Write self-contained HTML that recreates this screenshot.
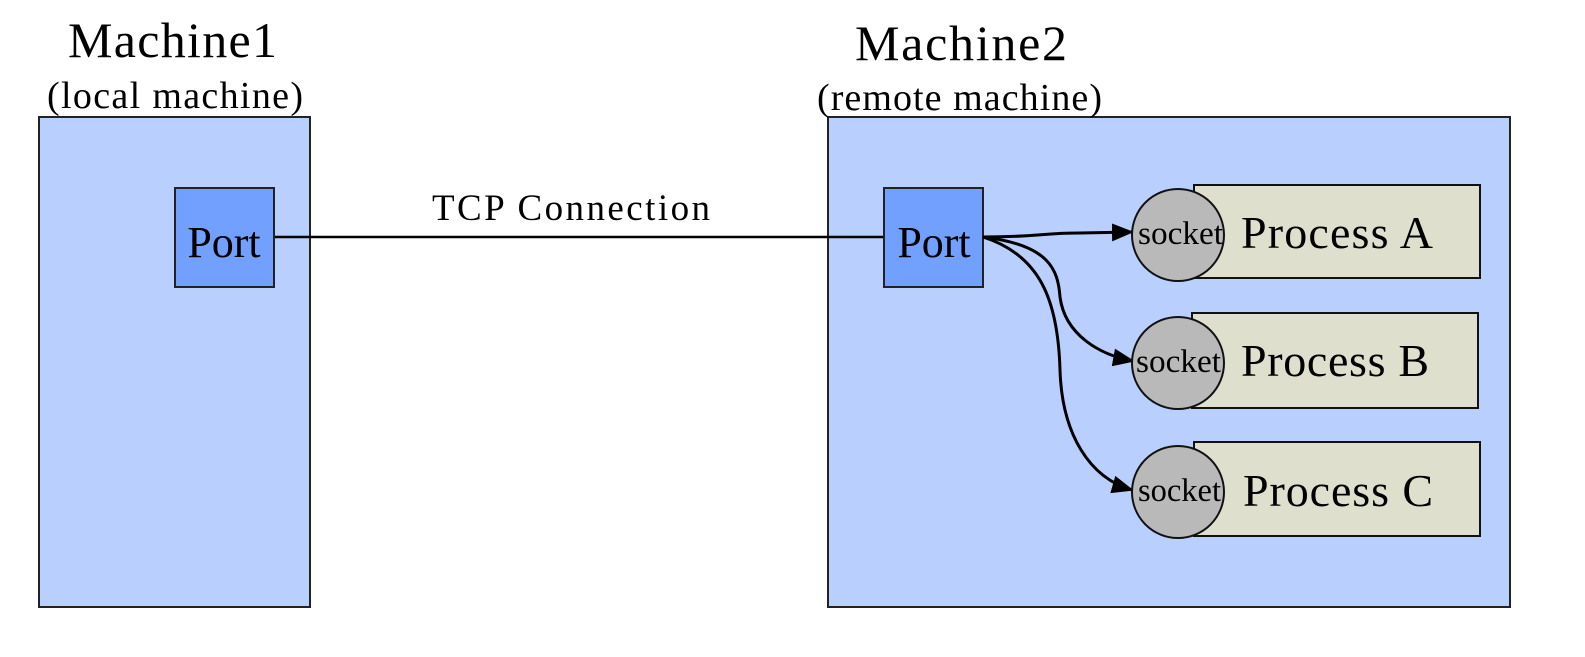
<!DOCTYPE html>
<html><head><style>html,body{margin:0;padding:0;background:#fff}</style></head>
<body>
<svg width="1585" height="652" xmlns="http://www.w3.org/2000/svg" font-family="Liberation Serif, serif">
<defs>
<marker id="b" markerWidth="22" markerHeight="18" refX="20" refY="9" orient="auto" markerUnits="userSpaceOnUse"><path d="M0,0 L22,9 L0,18 z" fill="#000"/></marker></defs>
<rect x="39" y="117" width="271" height="490" fill="#b9cffe" stroke="#222" stroke-width="2"/>
<rect x="828" y="117" width="682" height="490" fill="#b9cffe" stroke="#222" stroke-width="2"/>
<text x="68" y="57" font-size="50" textLength="209">Machine1</text>
<text x="47" y="108" font-size="38" textLength="256">(local machine)</text>
<text x="855" y="60" font-size="50" textLength="212">Machine2</text>
<text x="817" y="110" font-size="38" textLength="285">(remote machine)</text>
<line x1="274" y1="237" x2="883" y2="237" stroke="#000" stroke-width="2.5"/>
<text x="432" y="220" font-size="37" textLength="278">TCP Connection</text>
<rect x="175" y="188" width="99" height="99" fill="#71a0fe" stroke="#222" stroke-width="2"/>
<text x="224" y="257" font-size="44" text-anchor="middle">Port</text>
<rect x="884" y="188" width="99" height="99" fill="#71a0fe" stroke="#222" stroke-width="2"/>
<text x="934" y="257" font-size="44" text-anchor="middle">Port</text>
<rect x="1194" y="185" width="286" height="93" fill="#dee0cd" stroke="#111" stroke-width="2"/>
<rect x="1192" y="313" width="286" height="95" fill="#dee0cd" stroke="#111" stroke-width="2"/>
<rect x="1194" y="442" width="286" height="94" fill="#dee0cd" stroke="#111" stroke-width="2"/>
<path d="M983,237 C1040,237 1040,233 1080,233 L1132,232" fill="none" stroke="#000" stroke-width="3" marker-end="url(#b)"/>
<path d="M983,237 C1050,245 1058,270 1060,297 C1065,335 1100,355 1133,361" fill="none" stroke="#000" stroke-width="3" marker-end="url(#b)"/>
<path d="M983,237 C1040,255 1058,300 1060,370 C1062,435 1090,478 1132,490" fill="none" stroke="#000" stroke-width="3" marker-end="url(#b)"/>
<circle cx="1178" cy="235" r="46" fill="#b9b9b9" stroke="#111" stroke-width="2"/>
<circle cx="1178" cy="363" r="46" fill="#b9b9b9" stroke="#111" stroke-width="2"/>
<circle cx="1178" cy="492" r="46" fill="#b9b9b9" stroke="#111" stroke-width="2"/>
<text x="1138" y="244" font-size="33" textLength="85" lengthAdjust="spacingAndGlyphs">socket</text>
<text x="1136" y="372" font-size="33" textLength="85" lengthAdjust="spacingAndGlyphs">socket</text>
<text x="1138" y="501" font-size="33" textLength="83" lengthAdjust="spacingAndGlyphs">socket</text>
<text x="1241" y="248" font-size="46" textLength="192">Process A</text>
<text x="1241" y="376" font-size="46" textLength="188">Process B</text>
<text x="1243" y="506" font-size="46" textLength="190">Process C</text>
</svg>
</body></html>
